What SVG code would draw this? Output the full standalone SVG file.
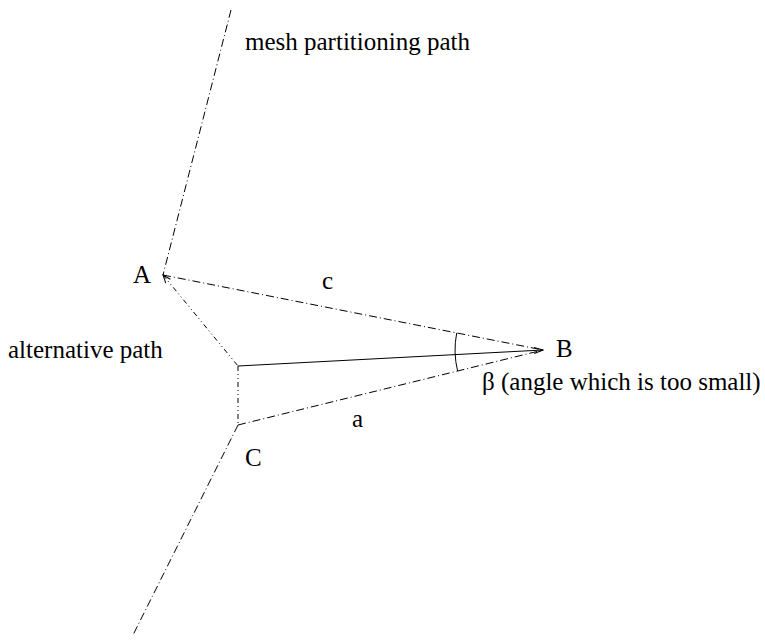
<svg xmlns="http://www.w3.org/2000/svg" width="765" height="642" viewBox="0 0 765 642">
<style>
.l{fill:none;stroke:#000;stroke-width:1}
.dd{stroke-dasharray:8 3 1 3}
.ddd{stroke-dasharray:5 3 1 3 1 3}
text{font-family:"Liberation Serif",serif;font-size:25px;fill:#000}
</style>
<defs>
<marker id="ah" markerWidth="10" markerHeight="8" refX="9" refY="4" orient="auto" markerUnits="userSpaceOnUse">
<path d="M0,1 L9,4 L0,7" fill="none" stroke="#000" stroke-width="1"/>
</marker>
<marker id="as" markerWidth="10" markerHeight="8" refX="1" refY="4" orient="auto" markerUnits="userSpaceOnUse">
<path d="M9,1 L1,4 L9,7" fill="none" stroke="#000" stroke-width="1"/>
</marker>
</defs>
<g id="connectors">
<path class="l dd" d="M231,10 L163,275"/>
<path class="l dd" d="M163,275 L543,350"/>
<path class="l ddd" d="M163,275 L238,366" marker-start="url(#as)"/>
<path class="l" d="M238,366 L543,350" marker-end="url(#ah)"/>
<path class="l ddd" d="M238,366 L238,425"/>
<path class="l dd" d="M238,425 L543,350"/>
<path class="l dd" d="M238,425 L133,635"/>
<path class="l" d="M456.7,333 A88,88 0 0 0 457.6,371"/>
</g>
<g id="labels">
<text x="245" y="50">mesh partitioning path</text>
<text x="133" y="283">A</text>
<text x="322" y="289">c</text>
<text x="8" y="358">alternative path</text>
<text x="556" y="357">B</text>
<text x="482" y="390">β (angle which is too small)</text>
<text x="352" y="427">a</text>
<text x="245" y="466">C</text>
</g>
</svg>
